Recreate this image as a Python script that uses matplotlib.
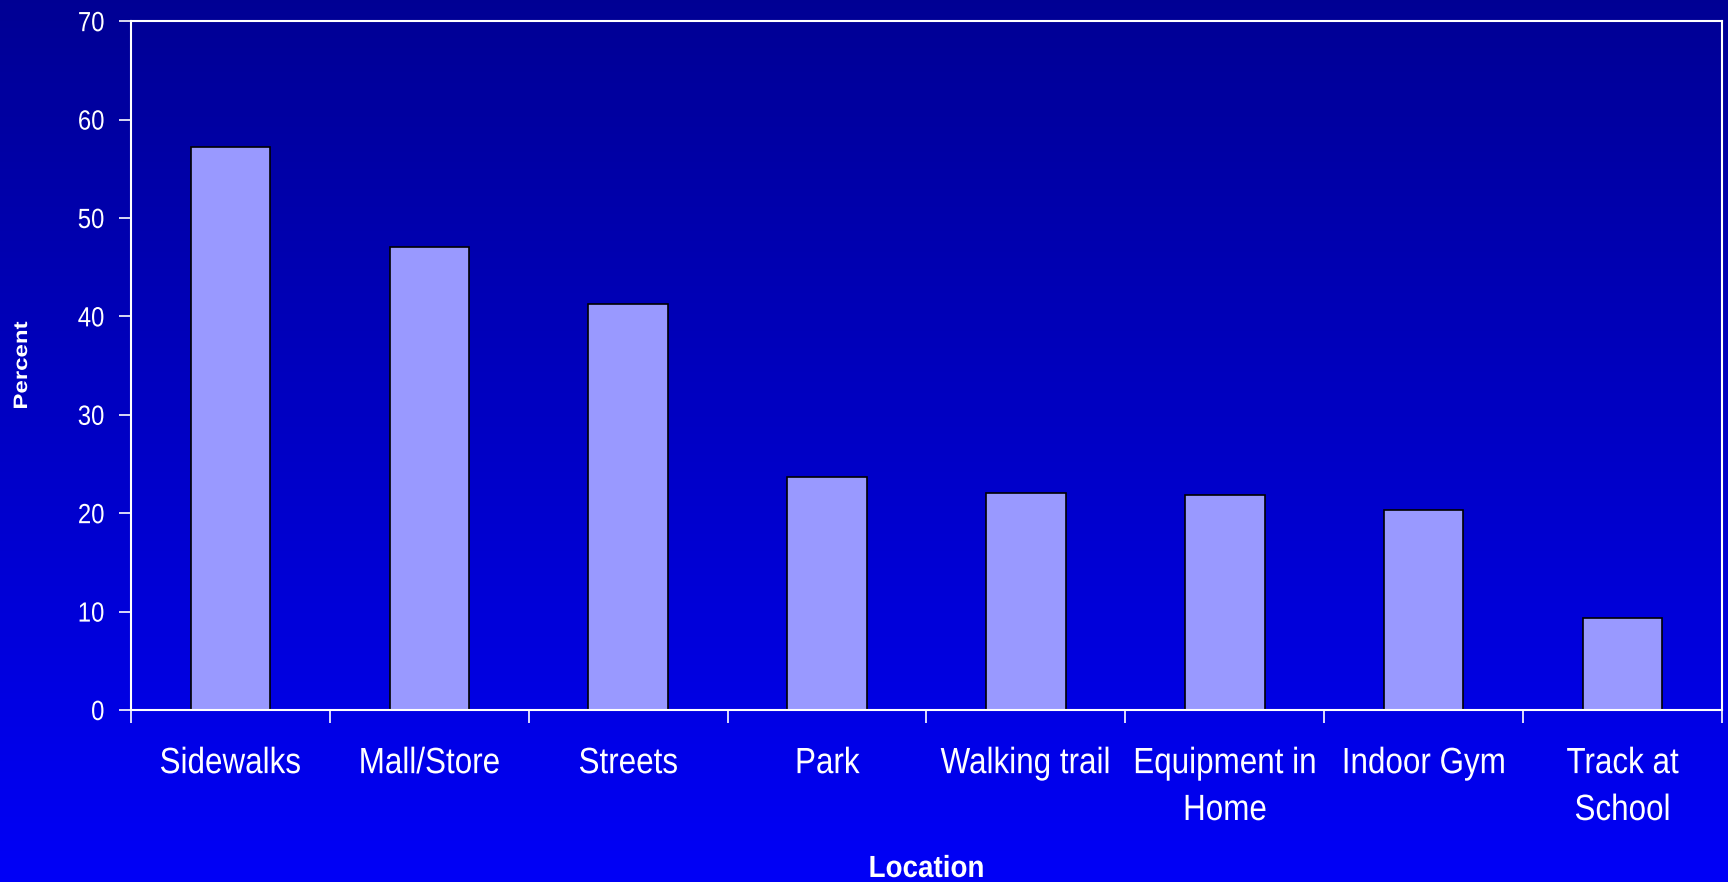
import numpy as np
import matplotlib.pyplot as plt
from matplotlib.patheffects import AbstractPathEffect
from matplotlib.transforms import Affine2D

locations = ["Sidewalks", "Mall/Store", "Streets", "Park", "Walking trail",
             "Equipment in\nHome", "Indoor Gym", "Track at\nSchool"]
percent = [57.2, 47.1, 41.3, 23.7, 22.1, 21.8, 20.3, 9.3]
yticks = [0, 10, 20, 30, 40, 50, 60, 70]

plt.rcParams["font.family"] = ["Liberation Sans", "DejaVu Sans"]


class Squeeze(AbstractPathEffect):
    """Scale glyph outlines (condensed look) around a fixed anchor."""

    def __init__(self, sx=1.0, sy=1.0, anchor="center"):
        super().__init__()
        self.sx, self.sy, self.anchor = sx, sy, anchor

    def draw_path(self, renderer, gc, tpath, affine, rgbFace=None):
        ext = tpath.get_extents()
        if self.anchor == "right":
            cx = ext.x1
        elif self.anchor == "left":
            cx = ext.x0
        else:
            cx = (ext.x0 + ext.x1) / 2
        t = Affine2D().translate(-cx, 0).scale(self.sx, self.sy).translate(cx, 0)
        renderer.draw_path(gc, tpath, t + affine, rgbFace)


fig = plt.figure(figsize=(17.28, 8.82), dpi=100)

# vertical navy-to-blue gradient behind everything
bg = fig.add_axes([0, 0, 1, 1], zorder=-1)
grad = np.linspace(0, 1, 256).reshape(-1, 1)
top = np.array([0.0, 0.0, 0.58])
bottom = np.array([0.0, 0.0, 0.97])
img = top + (bottom - top) * grad[:, :, None]
bg.imshow(img, aspect="auto", extent=[0, 1, 0, 1])
bg.axis("off")

ax = fig.add_axes([0.0758, 0.195, 0.9207, 0.781])
ax.patch.set_alpha(0)

x = np.arange(len(locations))
ax.bar(x, percent, width=0.4, color="#9999FF", edgecolor="black", linewidth=1.2)

ax.set_xlim(-0.5, len(locations) - 0.5)
ax.set_ylim(0, 70)
ax.set_yticks(yticks)
ax.set_yticklabels([str(v) for v in yticks], fontsize=20, color="white",
                   path_effects=[Squeeze(sx=0.86, anchor="right")])

# ticks at category boundaries, labels at centres
ax.set_xticks(np.arange(-0.5, len(locations), 1.0))
ax.set_xticklabels([])
ax.set_xticks(x, minor=True)
ax.set_xticklabels(locations, minor=True, fontsize=26.3, color="white",
                   linespacing=1.44, path_effects=[Squeeze(sx=0.86)])
ax.tick_params(axis="x", which="minor", length=0, pad=26)
ax.tick_params(axis="both", which="major", color="white", length=9, width=1.2)
ax.tick_params(axis="y", pad=10)

for s in ax.spines.values():
    s.set_color("white")
    s.set_linewidth(1.5)

ax.set_xlabel("Location", fontsize=22, fontweight="bold", color="white",
              path_effects=[Squeeze(sx=0.91)])
ax.xaxis.set_label_coords(0.5, -0.209)
ax.set_ylabel("Percent", fontsize=17.3, fontweight="bold", color="white",
              path_effects=[Squeeze(sy=0.81)])
ax.yaxis.set_label_coords(-0.0622, 0.5)

fig.savefig("out.png", dpi=100)
